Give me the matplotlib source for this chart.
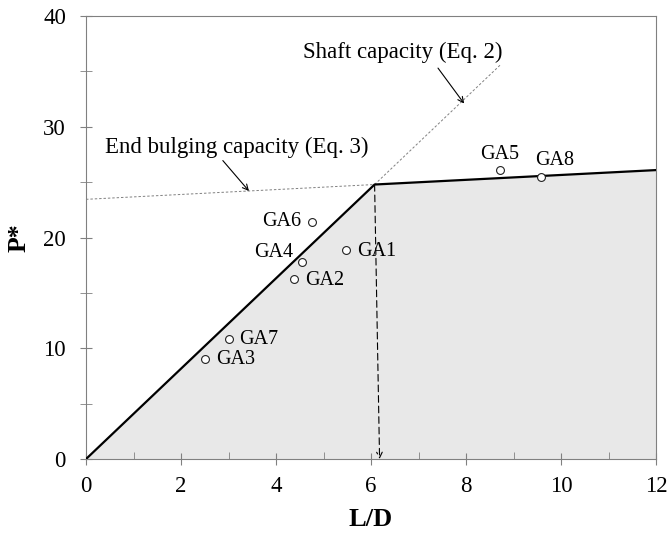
#capacity chart P* vs L/D
import matplotlib.pyplot as plt
import numpy as np

plt.rcParams['font.family'] = ['Liberation Serif', 'DejaVu Serif']

# test points
names = ["GA1", "GA2", "GA3", "GA4", "GA5", "GA6", "GA7", "GA8"]
ld = [5.47, 4.38, 2.51, 4.55, 8.71, 4.75, 3.00, 9.58]
pstar = [18.87, 16.25, 9.03, 17.76, 26.1, 21.43, 10.81, 25.5]

# capacity lines
shaft_slope = 4.08
bulge_p0 = 23.45
bulge_slope = 0.22
shaft_end = 8.72

x_kink = bulge_p0 / (shaft_slope - bulge_slope)
y_kink = shaft_slope * x_kink

fig = plt.figure(figsize=(6.69, 5.33), dpi=100)
ax = fig.add_axes([0.1286, 0.1388, 0.852, 0.8311])

# envelope
xe = np.array([0, x_kink, 12])
ye = np.array([0, y_kink, bulge_p0 + bulge_slope * 12])
ax.fill_between(xe, 0, ye, color="#e8e8e8", lw=0, zorder=1)
ax.plot(xe, ye, color="k", lw=1.6, zorder=3)

# extension of the two capacity lines
ax.plot([x_kink, shaft_end], [y_kink, shaft_slope * shaft_end], color="gray",
        lw=0.7, ls=(0, (2.5, 2)), zorder=2)
ax.plot([0, x_kink], [bulge_p0, y_kink], color="gray", lw=0.7, ls=(0, (2.5, 2)), zorder=2)

# vertical arrow down to L/D axis
ax.annotate("", xy=(6.18, 0), xytext=(x_kink, y_kink),
            arrowprops=dict(arrowstyle="->", color="k", lw=0.8, ls=(0, (6, 3.5)),
                            shrinkA=0, shrinkB=0), zorder=2)

ax.scatter(ld, pstar, s=32, facecolor="white", edgecolor="#222222", linewidth=0.8, zorder=4)

offsets = {"GA1": (8, -1, "left"), "GA2": (8, -1, "left"),
           "GA3": (7.7, 0, "left"), "GA4": (-6.5, 7, "right"),
           "GA5": (0, 11.5, "center"), "GA6": (-7.7, 0, "right"),
           "GA7": (7.5, 0, "left"), "GA8": (9.5, 11.5, "center")}
for n, x, y in zip(names, ld, pstar):
    dx, dy, ha = offsets[n]
    ax.annotate(n, (x, y), xytext=(dx, dy), textcoords="offset points",
                ha=ha, va="center", fontsize=14.5, zorder=5)

# capacity labels with arrows
ax.text(6.66, 36.7, "Shaft capacity (Eq. 2)", ha="center", va="center", fontsize=16.5)
ax.annotate("", xy=(7.96, 32.1), xytext=(7.41, 35.3),
            arrowprops=dict(arrowstyle="->", color="k", lw=0.8, shrinkA=0, shrinkB=0))
ax.text(3.17, 28.1, "End bulging capacity (Eq. 3)", ha="center", va="center", fontsize=16.5)
ax.annotate("", xy=(3.43, 24.2), xytext=(2.88, 26.95),
            arrowprops=dict(arrowstyle="->", color="k", lw=0.8, shrinkA=0, shrinkB=0))

ax.set_xlim(0, 12)
ax.set_ylim(0, 40)
ax.set_xticks(np.arange(0, 13, 2))
ax.set_xticks(np.arange(1, 12, 2), minor=True)
ax.set_yticks(np.arange(0, 41, 10))
ax.set_yticks(np.arange(5, 40, 10), minor=True)
ax.tick_params(axis="x", which="major", direction="inout", length=9, color="gray",
               labelsize=16.5, pad=8)
ax.tick_params(axis="x", which="minor", direction="in", length=5, color="gray")
ax.tick_params(axis="y", which="both", direction="inout", length=9, color="gray",
               labelsize=16.5, pad=10)
for s in ax.spines.values():
    s.set_color("gray")
    s.set_linewidth(0.8)

ax.set_xlabel("L/D", fontsize=19, fontweight="bold", labelpad=8)
ax.set_ylabel("P*", fontsize=18.5, fontweight="bold", labelpad=9)

fig.savefig("out.png", dpi=100)
